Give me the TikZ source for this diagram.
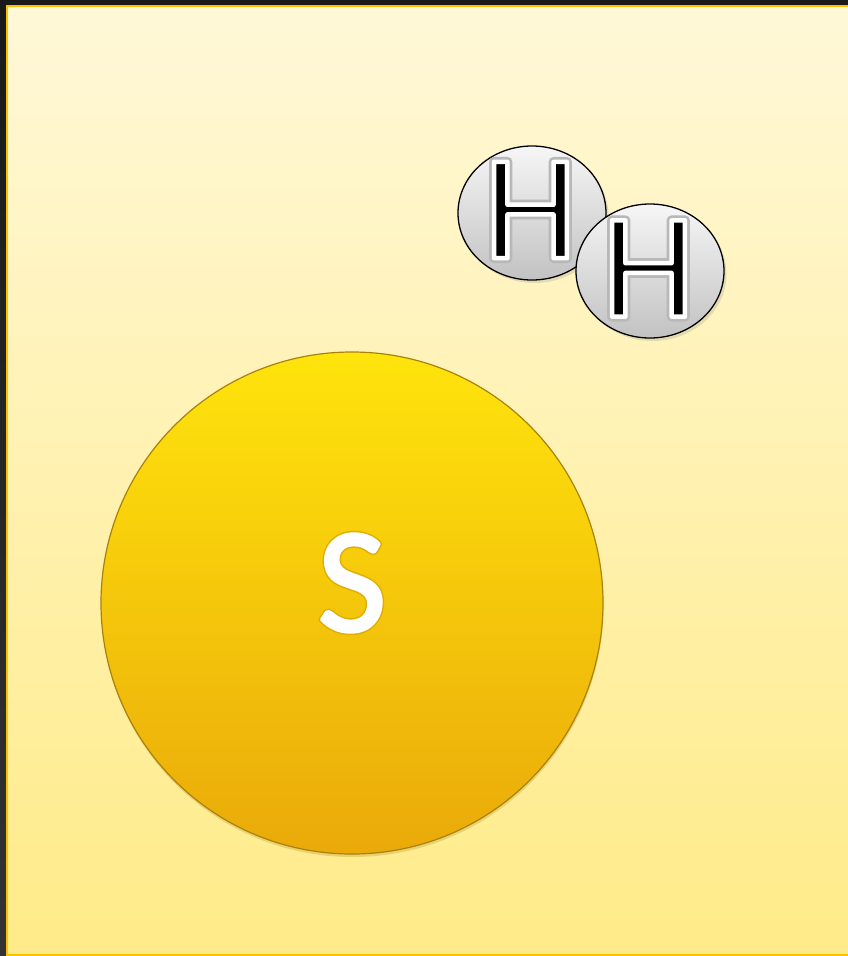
\documentclass[tikz,border=0pt]{standalone}
\usepackage{fontspec}
\setmainfont{Carlito}
\usetikzlibrary{shapes.geometric,shadows}
\definecolor{darkA}{HTML}{1A1A1A}
\definecolor{darkB}{HTML}{333333}
\definecolor{frameC}{HTML}{FFC000}
\definecolor{bgTop}{HTML}{FFF8D8}
\definecolor{bgBot}{HTML}{FFEB88}
\definecolor{sTop}{HTML}{FFE40C}
\definecolor{sBot}{HTML}{EAAA0A}
\definecolor{sEdge}{HTML}{A8820C}
\definecolor{sGlow}{HTML}{E8B400}
\definecolor{hTop}{HTML}{F6F6F6}
\definecolor{hBot}{HTML}{C2C2C2}
\definecolor{hGlow}{HTML}{B4B4B4}
% fill + stroke text: #1 line width (PDF units), #2 stroke rgb, #3 text
\newcommand\fstext[3]{\special{pdf:literal direct q 2 Tr #1 w 1 j #2 RG}#3\special{pdf:literal direct 0 Tr Q}}
\newcommand\hletter{\rlap{\color{hGlow}\fstext{10}{0.72 0.72 0.72}{H}}{\color{black}\fstext{4.5}{1 1 1}{H}}}
\newcommand\sletter{\rlap{\color{sGlow}\fstext{6}{0.88 0.68 0.02}{S}}{\color{white}\fstext{3}{1 1 1}{S}}}
\tikzset{
  hball/.style={ellipse, inner sep=0pt, outer sep=0pt, minimum width=148pt, minimum height=134pt,
    draw=black, line width=1.3pt, top color=hTop, bottom color=hBot,
    drop shadow={opacity=0.22, shadow xshift=2.5pt, shadow yshift=-3pt}},
  sball/.style={circle, inner sep=0pt, outer sep=0pt, minimum size=502pt,
    draw=sEdge, line width=1.2pt, top color=sTop, bottom color=sBot,
    drop shadow={opacity=0.25, fill=sEdge, shadow xshift=0.5pt, shadow yshift=-3pt}},
  bigtxt/.style={inner sep=0pt, font=\fontsize{150}{150}\selectfont}
}
\begin{document}
\begin{tikzpicture}[x=1pt,y=-1pt]
\useasboundingbox (0,0) rectangle (848,956);
\fill[top color=darkA, bottom color=darkB] (0,0) rectangle (848,956);
\path[draw=frameC, line width=2.2pt, top color=bgTop, bottom color=bgBot] (7,6) rectangle (870,955);
\node[sball] (s) at (352,603) {};
\node[bigtxt] (sl) at (352,583) {\sletter};
\node[hball] (h1) at (532,213) {};
\node[bigtxt] (h1l) at (530.5,210) {\hletter};
\node[hball] (h2) at (650,271) {};
\node[bigtxt] (h2l) at (648.5,268.5) {\hletter};
\end{tikzpicture}
\end{document}
